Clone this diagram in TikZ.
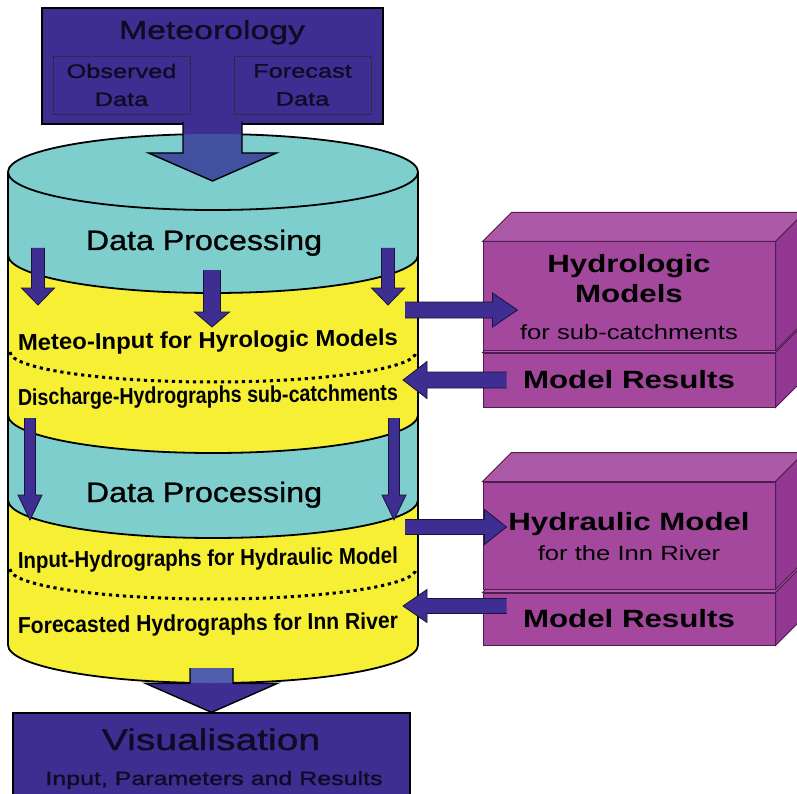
\documentclass[tikz,border=0pt]{standalone}
\usepackage{fontspec}
\usepackage{graphicx}
\setmainfont{Liberation Sans}
\newfontfamily\wideface[FakeStretch=1.3, FakeBold=1.2]{Liberation Sans}
\newfontfamily\procface[FakeStretch=1.15, FakeBold=1]{Liberation Sans}
\newfontfamily\modface[FakeStretch=1.25]{Liberation Sans}
\usetikzlibrary{positioning,calc}
\definecolor{metBlue}{RGB}{62,46,145}
\definecolor{metLight}{RGB}{66,80,160}
\definecolor{visLight}{RGB}{80,92,172}
\definecolor{txtDark}{RGB}{14,11,36}
\definecolor{dpCyan}{RGB}{126,206,206}
\definecolor{dpYellow}{RGB}{246,239,52}
\definecolor{modFront}{RGB}{163,72,157}
\definecolor{modTop}{RGB}{172,90,168}
\definecolor{modSide}{RGB}{146,56,146}
\definecolor{modEdge}{RGB}{78,28,78}
\tikzset{
    base/.style={inner sep=0pt, align=center},
    metbox/.style={rectangle, draw=black, line width=1.3pt, fill=metBlue},
    databox/.style={base, rectangle, draw=black!85, densely dotted, line width=0.6pt,
                    minimum width=137pt, minimum height=58pt, text=txtDark,
                    font=\wideface\fontsize{19.5}{28}\selectfont},
    mettitle/.style={base, anchor=base, text=txtDark, font=\wideface\fontsize{26}{30}\selectfont},
    vistitle/.style={base, anchor=base, text=txtDark, font=\wideface\fontsize{30}{34}\selectfont},
    vissub/.style={base, anchor=base, text=txtDark, font=\wideface\fontsize{19.2}{23}\selectfont},
    proc/.style={base, anchor=base, font=\procface\fontsize{28}{32}\selectfont},
    row/.style={base, anchor=base, rotate=0.7},
    cylline/.style={draw=black, line width=1.8pt},
    dotline/.style={line width=3pt, dash pattern=on 3.2pt off 3.8pt},
    modbox/.style={rectangle, draw=modEdge, line width=1pt, fill=modFront,
                   font=\modface\bfseries\fontsize{25}{30}\selectfont},
    modtitle/.style={base, anchor=base, font=\modface\bfseries\fontsize{25}{30}\selectfont},
    modsub/.style={base, anchor=base, font=\modface\fontsize{20.5}{24}\selectfont},
    modedge/.style={draw=modEdge, line width=1pt},
    bigfill/.style={fill=metBlue},
    bigline/.style={draw=black, line width=1.4pt, line join=miter},
    smallarrow/.style={fill=metBlue, draw=black!60!metBlue, line width=0.8pt}
}
% block arrow: [style]{from}{to}{half shaft}{half head}{head length}
\newcommand{\blockarrow}[6][]{%
  \coordinate (ba-h) at ($(#3)!#6!(#2)$);
  \path[#1] ($(#2)!#4!90:(#3)$) -- ($(ba-h)!#4!90:(#3)$) -- ($(ba-h)!#5!90:(#3)$) -- (#3)
    -- ($(ba-h)!#5!-90:(#3)$) -- ($(ba-h)!#4!-90:(#3)$) -- ($(#2)!#4!-90:(#3)$);}
% model block with top and side faces
\newcommand{\modelblock}[5]{%
  \node[modbox, minimum width=#3, minimum height=#4] (#1) at (#2) {#5};
  \filldraw[modedge, fill=modTop] (#1.north west) -- ++(29pt,29pt)
    -- ([shift={(29pt,29pt)}]#1.north east) -- (#1.north east) -- cycle;
  \filldraw[modedge, fill=modSide] (#1.north east) -- ++(29pt,29pt)
    -- ([shift={(29pt,29pt)}]#1.south east) -- (#1.south east) -- cycle;}
\newcommand{\rowtext}[1]{\resizebox{380pt}{\height}{\bfseries\fontsize{23}{27}\selectfont #1}}

\begin{document}
\begin{tikzpicture}[x=1pt, y=1pt]
  \path[use as bounding box, fill=white] (0,0) rectangle (797,-794);
  \clip (0,0) rectangle (797,-794);

  % Data store (cylinder)
  \fill[dpYellow] (8,-172) -- (8,-645) arc[start angle=180, end angle=360, x radius=205, y radius=38]
    -- (418,-172) -- cycle;
  \fill[dpCyan] (8,-172) -- (8,-255) arc[start angle=180, end angle=360, x radius=205, y radius=38]
    -- (418,-172) -- cycle;
  \fill[dpCyan] (8,-415) arc[start angle=180, end angle=360, x radius=205, y radius=38]
    -- (418,-500) arc[start angle=360, end angle=180, x radius=205, y radius=38] -- cycle;
  \draw[cylline] (8,-255) arc[start angle=180, end angle=360, x radius=205, y radius=38];
  \draw[cylline] (8,-415) arc[start angle=180, end angle=360, x radius=205, y radius=38];
  \draw[cylline] (8,-500) arc[start angle=180, end angle=360, x radius=205, y radius=38];
  \draw[dotline] (10,-352) arc[start angle=180, end angle=360, x radius=203, y radius=30];
  \draw[dotline] (10,-569) arc[start angle=180, end angle=360, x radius=203, y radius=30];
  \filldraw[cylline, fill=dpCyan] (213,-172) ellipse[x radius=205, y radius=38];
  \draw[cylline] (8,-172) -- (8,-645) arc[start angle=180, end angle=360, x radius=205, y radius=38]
    -- (418,-172);

  \node[proc] (proc1) at (204,-250) {Data Processing};
  \node[row] (meteoIn) at (208,-348) {\rowtext{Meteo-Input for Hyrologic Models}};
  \node[row] (discharge) at (208,-403) {\rowtext{Discharge-Hydrographs sub-catchments}};
  \node[proc] (proc2) at (204,-502) {Data Processing};
  \node[row] (hydIn) at (208,-566) {\rowtext{Input-Hydrographs for Hydraulic Model}};
  \node[row] (forecast) at (208,-631) {\rowtext{Forecasted Hydrographs for Inn River}};

  % Meteorology
  \node[metbox, minimum width=341pt, minimum height=116pt] (meteo) at (212.5,-66) {};
  \node[mettitle] (metTitle) at (212,-39) {Meteorology};
  \node[databox] (obs) at (121.5,-85) {Observed\\Data};
  \node[databox] (fct) at (302.5,-85) {Forecast\\Data};

  % Models
  \modelblock{hres}{629,-380}{292pt}{54pt}{Model Results}
  \modelblock{hydro}{629,-296}{292pt}{108pt}{}
  \node[modtitle] (hydroL1) at ([yshift=24pt]hydro.center) {Hydrologic};
  \node[modtitle] (hydroL2) at ([yshift=-6pt]hydro.center) {Models};
  \node[modsub] (hydroL3) at ([yshift=-43pt]hydro.center) {for sub-catchments};
  \modelblock{rres}{629,-619}{292pt}{52pt}{Model Results}
  \modelblock{hydraulic}{629,-535.5}{292pt}{107pt}{}
  \node[modtitle] (hydrL1) at ([yshift=5.5pt]hydraulic.center) {Hydraulic Model};
  \node[modsub] (hydrL2) at ([yshift=-24.5pt]hydraulic.center) {for the Inn River};

  % Visualisation
  \node[metbox, minimum width=397pt, minimum height=100pt] (vis) at (211.5,-763) {};
  \node[vistitle] (visTitle) at (211,-750) {Visualisation};
  \node[vissub] (visSub) at (214,-785) {Input, Parameters and Results};

  % Arrows inside the store
  \coordinate (pl1) at (38,-248);  \coordinate (pl2) at (38,-305);
  \coordinate (pm1) at (212,-270); \coordinate (pm2) at (212,-327);
  \coordinate (pr1) at (388,-248); \coordinate (pr2) at (388,-305);
  \coordinate (ql1) at (30,-418);  \coordinate (ql2) at (30,-520);
  \coordinate (qr1) at (394,-418); \coordinate (qr2) at (394,-520);
  \blockarrow[smallarrow]{pl1}{pl2}{6.5pt}{16.5pt}{17pt}
  \blockarrow[smallarrow]{pm1}{pm2}{8.5pt}{17.5pt}{15pt}
  \blockarrow[smallarrow]{pr1}{pr2}{6.5pt}{16.5pt}{17pt}
  \blockarrow[smallarrow]{ql1}{ql2}{5.5pt}{12pt}{25pt}
  \blockarrow[smallarrow]{qr1}{qr2}{5.5pt}{12pt}{25pt}

  % Arrows to and from the models
  \coordinate (hyA) at (405,-310);
  \coordinate (hyB) at ([shift={(35pt,-14pt)}]hydro.west);
  \coordinate (hrA) at ([xshift=24pt]hres.west);
  \coordinate (hrB) at (403,-380);
  \coordinate (haA) at (405,-527);
  \coordinate (haB) at ([shift={(24pt,8.5pt)}]hydraulic.west);
  \coordinate (rrA) at ([shift={(24pt,13pt)}]rres.west);
  \coordinate (rrB) at (403,-606);
  \blockarrow[smallarrow]{hyA}{hyB}{8pt}{17pt}{25pt}
  \blockarrow[smallarrow]{hrA}{hrB}{8pt}{18.5pt}{24pt}
  \blockarrow[smallarrow]{haA}{haB}{7.5pt}{17.5pt}{22pt}
  \blockarrow[smallarrow]{rrA}{rrB}{7.5pt}{16.5pt}{24pt}

  % Meteorology -> store
  \coordinate (metA) at ([yshift=3pt]meteo.south);
  \coordinate (metB) at (212.5,-181);
  \blockarrow[bigfill]{metA}{metB}{29.5pt}{64pt}{28pt}
  \begin{scope}
    \clip (213,-172) ellipse[x radius=205, y radius=38];
    \blockarrow[fill=metLight]{metA}{metB}{29.5pt}{64pt}{28pt}
  \end{scope}
  \blockarrow[bigline]{metA}{metB}{29.5pt}{64pt}{28pt}

  % store -> Visualisation
  \coordinate (visA) at (211.5,-668);
  \blockarrow[bigfill]{visA}{vis.north}{21.5pt}{66pt}{29pt}
  \begin{scope}
    \clip (8,-172) -- (8,-645) arc[start angle=180, end angle=360, x radius=205, y radius=38]
      -- (418,-172) -- cycle;
    \blockarrow[fill=visLight]{visA}{vis.north}{21.5pt}{66pt}{29pt}
  \end{scope}
  \blockarrow[bigline]{visA}{vis.north}{21.5pt}{66pt}{29pt}
\end{tikzpicture}
\end{document}
